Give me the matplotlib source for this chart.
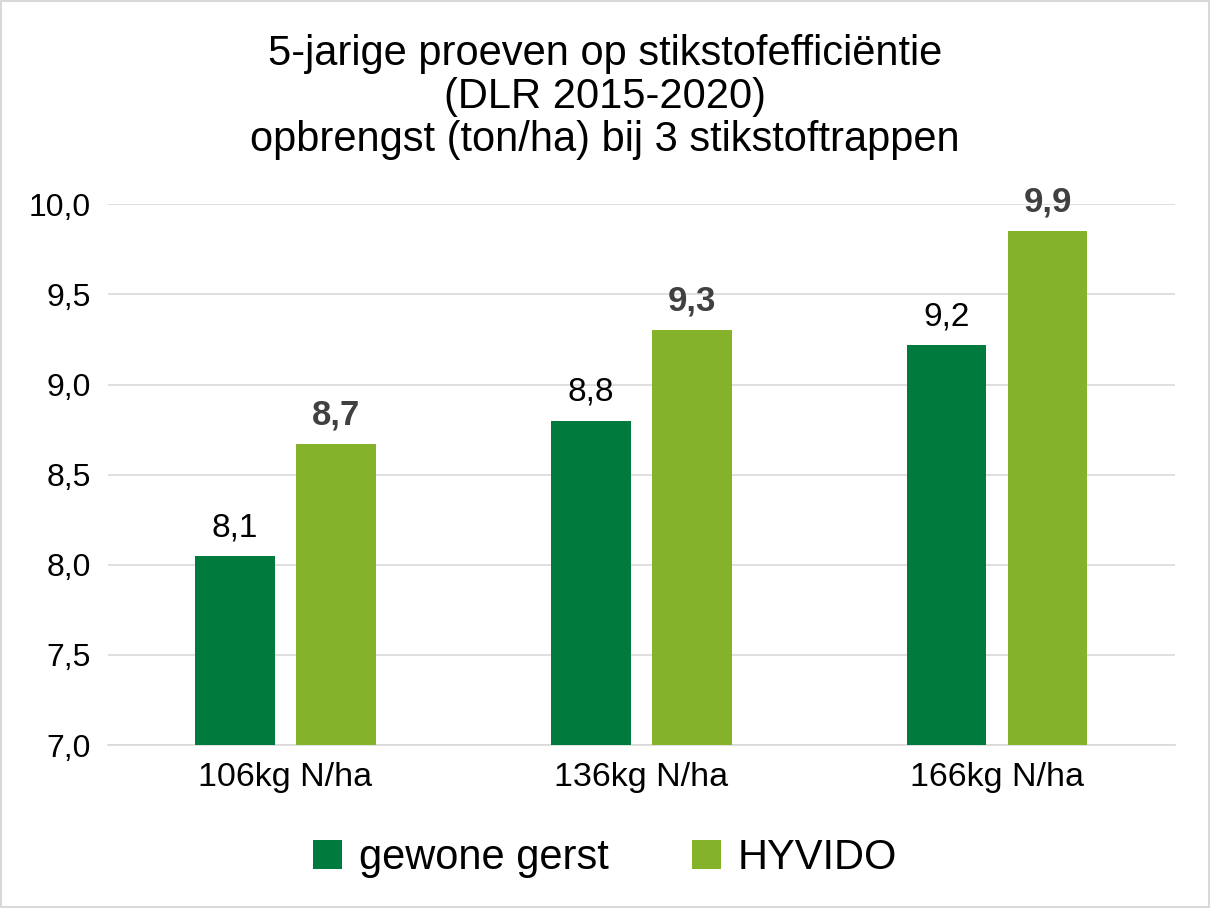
import numpy as np
import matplotlib.pyplot as plt

plt.rcParams['font.family'] = ['Liberation Sans', 'DejaVu Sans']

categories = ['106kg N/ha', '136kg N/ha', '166kg N/ha']
gewone = [8.05, 8.80, 9.22]
hyvido = [8.67, 9.30, 9.85]
gewone_lbl = ['8,1', '8,8', '9,2']
hyvido_lbl = ['8,7', '9,3', '9,9']
yticks = [7.0, 7.5, 8.0, 8.5, 9.0, 9.5, 10.0]

fig = plt.figure(figsize=(12.1, 9.08), dpi=100)
ax = fig.add_axes([0.089, 0.1795, 0.882, 0.5955])

x = np.arange(len(categories))
w = 0.224
off = 0.142
dark = '#007A3D'
light = '#84B22A'
ax.bar(x - off, np.array(gewone) - 7, w, bottom=7, color=dark, label='gewone gerst', zorder=3)
ax.bar(x + off, np.array(hyvido) - 7, w, bottom=7, color=light, label='HYVIDO', zorder=3)

for i in range(len(x)):
    ax.text(x[i] - off, gewone[i] + 0.07, gewone_lbl[i], ha='center', va='bottom',
            fontsize=24, color='#000000')
    ax.text(x[i] + off, hyvido[i] + 0.07, hyvido_lbl[i], ha='center', va='bottom',
            fontsize=25, fontweight='bold', color='#404040')

ax.set_xlim(-0.5, 2.5)
ax.set_ylim(7.0, 10.0)
ax.set_yticks(yticks)
ax.set_yticklabels([f'{v:.1f}'.replace('.', ',') for v in yticks], fontsize=23)
ax.set_xticks(x)
ax.set_xticklabels(categories, fontsize=24.5)
ax.tick_params(axis='both', length=0, pad=12)
ax.grid(axis='y', color='#D9D9D9', linewidth=1.2, zorder=0)
for s in ['top', 'right', 'left']:
    ax.spines[s].set_visible(False)
ax.spines['bottom'].set_color('#D9D9D9')
ax.spines['bottom'].set_linewidth(1.2)

fig.text(0.5, 0.893, '5-jarige proeven op stikstofefficiëntie\n(DLR 2015-2020)\nopbrengst (ton/ha) bij 3 stikstoftrappen',
         ha='center', va='center', fontsize=30, linespacing=1.1)

fig.legend(loc='center', bbox_to_anchor=(0.5, 0.055), ncol=2, frameon=False,
           fontsize=30, handlelength=0.7, handleheight=0.7, columnspacing=2.0, handletextpad=0.4)

fig.patches.append(plt.Rectangle((0.001, 0.001), 0.998, 0.998, transform=fig.transFigure,
                                 fill=False, edgecolor='#D9D9D9', linewidth=1.5))

fig.savefig('out.png', dpi=100)
